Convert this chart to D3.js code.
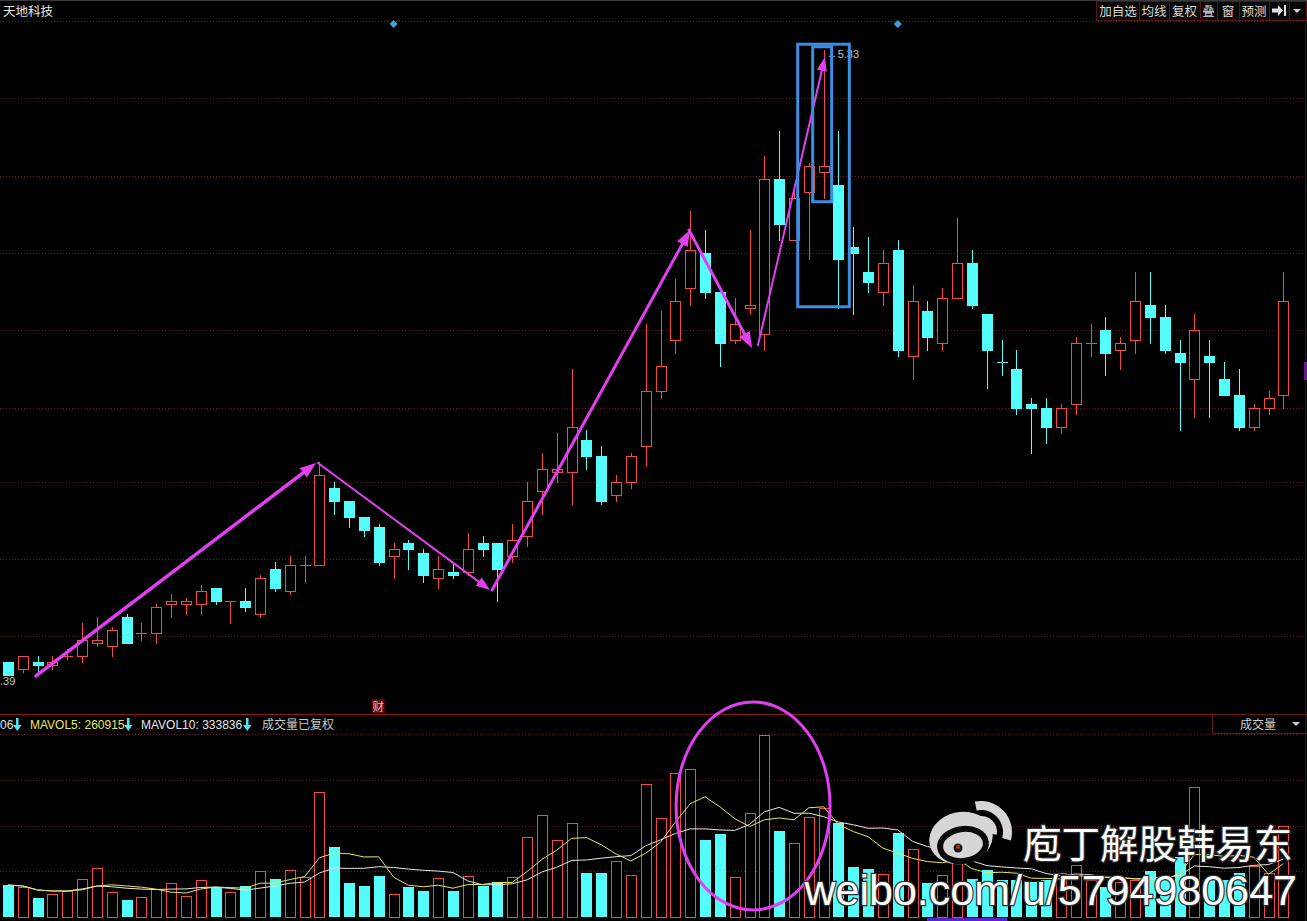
<!DOCTYPE html>
<html><head><meta charset="utf-8">
<script src="https://cdn.jsdelivr.net/npm/d3@7"></script>
<style>html,body{margin:0;padding:0;background:#000;overflow:hidden}</style>
</head><body>
<svg id="c" width="1307" height="921"></svg>
<script>
// ---------- data ----------
const stockName = "天地科技";
const open = [3.43,3.41,3.43,3.42,3.45,3.45,3.49,3.48,3.57,3.52,
  3.52,3.61,3.61,3.61,3.66,3.62,3.62,3.58,3.72,3.65,
  3.73,3.73,3.97,3.93,3.88,3.85,3.76,3.80,3.77,3.69,
  3.71,3.71,3.80,3.80,3.76,3.82,3.96,4.02,4.02,4.12,
  4.07,3.95,3.99,4.10,4.27,4.43,4.59,4.70,4.58,4.43,
  4.53,4.45,4.93,4.74,4.89,4.95,4.91,4.72,4.64,4.58,
  4.71,4.38,4.52,4.42,4.56,4.67,4.51,4.362,4.34,4.23,
  4.22,4.16,4.23,4.42,4.46,4.40,4.43,4.54,4.50,4.39,
  4.31,4.38,4.31,4.26,4.16,4.22,4.26];
const close = [3.39,3.45,3.42,3.43,3.45,3.50,3.50,3.53,3.49,3.52,
  3.60,3.62,3.62,3.65,3.62,3.62,3.60,3.69,3.66,3.73,
  3.73,4.01,3.93,3.88,3.84,3.74,3.78,3.78,3.70,3.72,
  3.70,3.78,3.78,3.72,3.81,3.93,4.03,4.03,4.16,4.07,
  3.93,3.99,4.07,4.27,4.35,4.55,4.71,4.58,4.42,4.48,
  4.54,4.93,4.79,4.87,4.97,4.97,4.68,4.70,4.61,4.67,
  4.40,4.55,4.44,4.56,4.67,4.54,4.40,4.360,4.22,4.22,
  4.16,4.22,4.42,4.42,4.39,4.42,4.55,4.50,4.40,4.36,
  4.46,4.36,4.26,4.16,4.22,4.25,4.55];
const high = [3.43,3.45,3.45,3.45,3.47,3.55,3.57,3.54,3.58,3.55,
  3.61,3.64,3.63,3.67,3.66,3.62,3.66,3.70,3.74,3.76,
  3.76,4.05,3.99,3.93,3.88,3.86,3.80,3.81,3.78,3.76,
  3.74,3.83,3.82,3.80,3.86,3.99,4.08,4.14,4.34,4.15,
  4.10,4.01,4.08,4.48,4.52,4.62,4.83,4.77,4.58,4.56,
  4.77,5.00,5.08,4.90,4.98,5.33,5.08,4.78,4.75,4.71,
  4.74,4.60,4.55,4.59,4.81,4.71,4.51,4.43,4.40,4.25,
  4.25,4.23,4.44,4.48,4.50,4.44,4.64,4.64,4.54,4.43,
  4.51,4.43,4.36,4.34,4.23,4.27,4.64];
const low = [3.39,3.40,3.40,3.41,3.44,3.43,3.48,3.45,3.49,3.50,
  3.49,3.57,3.58,3.58,3.61,3.55,3.59,3.57,3.65,3.64,
  3.68,3.73,3.89,3.85,3.82,3.73,3.69,3.72,3.68,3.66,
  3.69,3.70,3.76,3.62,3.74,3.79,3.89,3.99,3.92,4.03,
  3.92,3.93,3.97,4.04,4.25,4.39,4.54,4.56,4.35,4.42,
  4.51,4.40,4.74,4.74,4.68,4.87,4.53,4.51,4.58,4.54,
  4.38,4.31,4.40,4.40,4.56,4.53,4.28,4.32,4.20,4.08,
  4.11,4.14,4.20,4.38,4.32,4.34,4.39,4.42,4.39,4.15,
  4.19,4.19,4.26,4.15,4.15,4.20,4.22];
const volume = [185600,174000,110200,133400,150800,220400,284200,145000,98600,116000,
  162400,197200,121800,214600,174000,145000,179800,266800,220400,272600,
  232000,725000,406000,197200,179800,237800,133400,174000,150800,226200,
  150800,237800,179800,203000,232000,464000,591600,446600,545200,255200,
  255200,324800,243600,771400,574200,835200,858400,446600,481400,232000,
  603200,1055600,498800,429200,580000,632200,545200,290000,278400,249400,
  487200,394400,197200,243600,348000,220400,272600,214600,214600,203000,
  214600,255200,301600,214600,174000,203000,214600,266800,226200,348000,
  754000,214600,214600,255200,295800,255200,527800];
const priceDomain = [3.39, 5.33];
const gridPrices = [5.42,5.18,4.94,4.70,4.46,4.22,3.99,3.75,3.51];
const gridVolumes = [265000,530000,795000,1060000];
const highLabel = "←5.33";
const lowLabel = ".39";
const volLegend = ["06", "MAVOL5: 260915", "MAVOL10: 333836", "成交量已复权"];
const toolButtons = ["加自选","均线","复权","叠","窗","预测"];
const panelName = "成交量";
const financeIndex = 25;
const diamondIndex = [26, 60];
// annotations anchored in (candle index, price)
const trendArrows = [[1.89,3.387,20.77,4.048],[20.9,4.048,32.5,3.654],[32.64,3.654,45.99,4.771],[45.92,4.771,50.17,4.405],[50.57,4.414,55.09,5.308]];
const boxes = [[53.25,5.348,56.73,4.533],[54.26,5.340,55.54,4.859]];
const volEllipse = [50.24, 643800, 5.19, 603200]; // center idx, center vol, half-width idx, half-height vol
const watermark = ["庖丁解股韩易东", "weibo.com/u/5794980647"];

// ---------- drawing ----------
const W = 1307, H = 921;
const RED = "#f24a46", CYAN = "#54fcfc", GRID = "#6e1a1a", MAG = "#e040f0";
const svg = d3.select("#c");
svg.append("rect").attr("width", W).attr("height", H).attr("fill", "#000");

const n = open.length;
const idx = d3.range(n);
const x = d3.scaleLinear().domain([0, n - 1]).range([8, 1283.4]);
const y = d3.scaleLinear().domain(priceDomain).range([675, 50]);
const yv = d3.scaleLinear().domain([0, 1060000]).range([917, 734.2]);
const up = i => close[i] >= open[i];
const col = i => up(i) ? RED : CYAN;
const cxOf = i => Math.round(x(i)) + 0.5;

// top line
svg.append("line").attr("x1",0).attr("x2",W).attr("y1",0.5).attr("y2",0.5).attr("stroke","#3a3a3a");

// grid lines
const grid = svg.append("g").attr("shape-rendering","crispEdges");
grid.selectAll("line.gp").data(gridPrices).join("line").attr("class","gp")
  .attr("x1",0).attr("x2",1304).attr("y1",d=>Math.round(y(d))+0.5).attr("y2",d=>Math.round(y(d))+0.5)
  .attr("stroke",GRID).attr("stroke-dasharray","1 2");
grid.selectAll("line.gv").data(gridVolumes).join("line").attr("class","gv")
  .attr("x1",0).attr("x2",1304).attr("y1",d=>Math.round(yv(d))+0.5).attr("y2",d=>Math.round(yv(d))+0.5)
  .attr("stroke",GRID).attr("stroke-dasharray","1 2");

// separators
svg.append("line").attr("x1",0).attr("x2",W).attr("y1",714.5).attr("y2",714.5).attr("stroke","#8a1c1c");
svg.append("line").attr("x1",1305.5).attr("x2",1305.5).attr("y1",21).attr("y2",921).attr("stroke","#4a1010");
svg.append("rect").attr("x",1304).attr("y",362).attr("width",3).attr("height",18).attr("fill","#6a1a8a");

// title
svg.append("text").attr("x",3).attr("y",16).attr("fill","#e6e6e6")
  .attr("font-family","'Noto Sans CJK SC',sans-serif").attr("font-size",12.5).text(stockName);

// tool buttons
const btnEdges = [1097,1139,1169,1200,1217,1239,1269,1289,1307];
const tb = svg.append("g");
tb.append("rect").attr("x",1096.5).attr("y",1.5).attr("width",210).attr("height",19).attr("fill","#080808").attr("stroke","#5a1414");
tb.selectAll("line").data(btnEdges.slice(1,-1)).join("line")
  .attr("x1",d=>d+0.5).attr("x2",d=>d+0.5).attr("y1",2).attr("y2",20).attr("stroke","#5a1414");
tb.selectAll("text").data(toolButtons).join("text")
  .attr("x",(d,i)=>(btnEdges[i]+btnEdges[i+1])/2).attr("y",16).attr("text-anchor","middle")
  .attr("fill","#d8d8d8").attr("font-family","'Noto Sans CJK SC',sans-serif").attr("font-size",12.5).text(d=>d);
tb.append("path").attr("d","M1272,8.5h6v-3.5l5,5.5l-5,5.5v-3.5h-6z").attr("fill","#e0e0e0");
tb.append("rect").attr("x",1284).attr("y",5).attr("width",2).attr("height",11).attr("fill","#e0e0e0");
tb.append("path").attr("d","M1293,9h8l-4,4z").attr("fill","#d0d0d0");

// diamonds
svg.selectAll("path.dia").data(diamondIndex).join("path").attr("class","dia")
  .attr("d",d=>{const cx=x(d); return `M${cx},20 L${cx+4},24 L${cx},28 L${cx-4},24Z`;})
  .attr("fill","#3f9fe0");

// candles
const gc = svg.append("g").attr("shape-rendering","crispEdges");
gc.selectAll("line.wick").data(idx).join("line").attr("class","wick")
  .attr("x1",cxOf).attr("x2",cxOf).attr("y1",i=>Math.round(y(high[i]))).attr("y2",i=>Math.round(y(low[i]))+1)
  .attr("stroke",col);
gc.selectAll("rect.body").data(idx.filter(i=>Math.round(y(Math.min(open[i],close[i])))-Math.round(y(Math.max(open[i],close[i])))>=1))
  .join("rect").attr("class","body")
  .attr("x",i=>up(i)?cxOf(i)-5:cxOf(i)-5.5)
  .attr("y",i=>{const t=Math.round(y(Math.max(open[i],close[i]))); return up(i)?t+0.5:t;})
  .attr("width",i=>up(i)?10:11)
  .attr("height",i=>{const t=Math.round(y(Math.max(open[i],close[i]))), b=Math.round(y(Math.min(open[i],close[i]))); return up(i)?b-t:b-t+1;})
  .attr("fill",i=>up(i)?"#000":CYAN).attr("stroke",i=>up(i)?RED:"none");
gc.selectAll("line.doji").data(idx.filter(i=>Math.round(y(Math.min(open[i],close[i])))-Math.round(y(Math.max(open[i],close[i])))<1))
  .join("line").attr("class","doji")
  .attr("x1",i=>cxOf(i)-5.5).attr("x2",i=>cxOf(i)+5.5)
  .attr("y1",i=>Math.round(y(close[i]))+0.5).attr("y2",i=>Math.round(y(close[i]))+0.5).attr("stroke",col);

// high / low labels
const hiI = d3.maxIndex(high), loI = d3.minIndex(low);
svg.append("text").attr("x",x(hiI)+3).attr("y",y(high[hiI])+8).attr("fill","#c4c4c4")
  .attr("font-family","'Liberation Sans',Arial,sans-serif").attr("font-size",11).text(highLabel);
svg.append("text").attr("x",0).attr("y",y(low[loI])+10).attr("fill","#c4c4c4")
  .attr("font-family","'Liberation Sans',Arial,sans-serif").attr("font-size",11).text(lowLabel);

// finance marker
const fx = x(financeIndex);
svg.append("rect").attr("x",fx-7).attr("y",699).attr("width",13).attr("height",14).attr("fill","#5c0c0c");
svg.append("text").attr("x",fx-0.5).attr("y",711).attr("text-anchor","middle").attr("fill","#ffb4b4")
  .attr("font-family","'Noto Sans CJK SC',sans-serif").attr("font-size",11.5).text("财");

// volume bars
const gvb = svg.append("g").attr("shape-rendering","crispEdges");
gvb.selectAll("rect.vol").data(idx).join("rect").attr("class","vol")
  .attr("x",i=>up(i)?cxOf(i)-5:cxOf(i)-5.5)
  .attr("y",i=>{const t=Math.round(yv(volume[i])); return up(i)?t+0.5:t;})
  .attr("width",i=>up(i)?10:11)
  .attr("height",i=>{const t=Math.round(yv(volume[i])); return up(i)?Math.round(yv(0))-t-0.5:Math.round(yv(0))-t;})
  .attr("fill",i=>up(i)?"#000":CYAN).attr("stroke",i=>up(i)?RED:"none");

// MA lines
const ma = k => volume.map((v,i)=>d3.mean(volume.slice(Math.max(0,i-k+1),i+1)));
const line = d3.line().x((d,i)=>x(i)).y(d=>yv(d));
svg.append("path").attr("d",line(ma(10))).attr("fill","none").attr("stroke","#e8e8e8").attr("stroke-width",1);
svg.append("path").attr("d",line(ma(5))).attr("fill","none").attr("stroke","#e6e65a").attr("stroke-width",1);

// volume legend
const lg = svg.append("g").attr("font-family","'Liberation Sans',Arial,sans-serif").attr("font-size",12);
const lgX = [0,30,141,262], lgCol = ["#cfeeee","#e8e85a","#e6e6e6","#c8c8c8"];
lg.selectAll("text").data(volLegend).join("text").attr("x",(d,i)=>lgX[i]).attr("y",729)
  .attr("fill",(d,i)=>lgCol[i]).attr("font-family",(d,i)=>i===3?"'Noto Sans CJK SC',sans-serif":null).text(d=>d);
lg.selectAll("path").data([17,128,247]).join("path")
  .attr("d",d=>`M${d-1},718h2.5v7h3l-4.25,6l-4.25,-6h3z`).attr("fill","#4fe4f0");

// panel name box
svg.append("rect").attr("x",1212.5).attr("y",714.5).attr("width",95).attr("height",19).attr("fill","none").attr("stroke","#6a1515");
svg.append("text").attr("x",1240).attr("y",729).attr("fill","#cccccc")
  .attr("font-family","'Noto Sans CJK SC',sans-serif").attr("font-size",12).text(panelName);
svg.append("path").attr("d","M1292,722h8l-4,4z").attr("fill","#d0d0d0");

// annotations: magenta trend arrows
const arrowW = [3.5,2,3,3,2];
const ga = svg.append("g");
trendArrows.forEach((a,k)=>{
  const x0=x(a[0]), y0=y(a[1]), x1=x(a[2]), y1=y(a[3]);
  const dx=x1-x0, dy=y1-y0, L=Math.hypot(dx,dy), ux=dx/L, uy=dy/L;
  const hl = arrowW[k]>2.5?16:14, hw = arrowW[k]>2.5?6:5;
  const bx=x1-ux*hl, by=y1-uy*hl;
  ga.append("line").attr("x1",x0).attr("y1",y0).attr("x2",bx+ux*2).attr("y2",by+uy*2)
    .attr("stroke",MAG).attr("stroke-width",arrowW[k]).attr("stroke-linecap","round");
  ga.append("path").attr("d",`M${x1},${y1}L${bx-uy*hw},${by+ux*hw}L${bx+uy*hw},${by-ux*hw}Z`).attr("fill",MAG);
});

// blue boxes
svg.selectAll("rect.box").data(boxes).join("rect").attr("class","box")
  .attr("x",d=>x(d[0])).attr("y",d=>y(d[1])).attr("width",d=>x(d[2])-x(d[0])).attr("height",d=>y(d[3])-y(d[1]))
  .attr("fill","none").attr("stroke","#3b8ee0").attr("stroke-width",3);

// volume ellipse
svg.append("ellipse").attr("cx",x(volEllipse[0])).attr("cy",yv(volEllipse[1]))
  .attr("rx",x(volEllipse[0]+volEllipse[2])-x(volEllipse[0])).attr("ry",yv(0)-yv(volEllipse[3]))
  .attr("fill","none").attr("stroke",MAG).attr("stroke-width",3);

// bottom purple strip
svg.append("rect").attr("x",927).attr("y",918).attr("width",80).attr("height",3).attr("fill","#5a22c8");

// watermark: weibo logo
const wm = svg.append("g");
wm.append("ellipse").attr("cx",961).attr("cy",838).attr("rx",32).attr("ry",26).attr("fill","#d6d6d6").attr("transform","rotate(-12 961 838)");
wm.append("ellipse").attr("cx",963).attr("cy",845).attr("rx",23).attr("ry",16).attr("fill","none").attr("stroke","#0a0a0a").attr("stroke-width",6).attr("transform","rotate(-8 963 845)");
wm.append("ellipse").attr("cx",962).attr("cy",846).attr("rx",15).attr("ry",11).attr("fill","#d6d6d6");
wm.append("circle").attr("cx",958).attr("cy",848).attr("r",4.5).attr("fill","#1a1a1a");
wm.append("circle").attr("cx",958).attr("cy",847).attr("r",2).attr("fill","#c02828");
const arc = d3.arc();
wm.append("path").attr("transform","translate(981,832)").attr("d",arc({innerRadius:10,outerRadius:16,startAngle:-0.15,endAngle:1.75})).attr("fill","#d6d6d6");
wm.append("path").attr("transform","translate(981,832)").attr("d",arc({innerRadius:22,outerRadius:31,startAngle:-0.2,endAngle:1.85})).attr("fill","#d6d6d6");
wm.append("text").attr("x",1023).attr("y",858).attr("fill","#fff").attr("stroke","#303030").attr("stroke-width",2.5)
  .attr("paint-order","stroke").attr("font-family","'Noto Sans CJK SC',sans-serif").attr("font-size",38.5).text(watermark[0]);
wm.append("text").attr("x",1297).attr("y",905).attr("text-anchor","end").attr("fill","#fff").attr("stroke","#303030").attr("stroke-width",2.5)
  .attr("paint-order","stroke").attr("font-family","'Liberation Sans',Arial,sans-serif").attr("font-size",43).text(watermark[1]);
</script>
</body></html>
